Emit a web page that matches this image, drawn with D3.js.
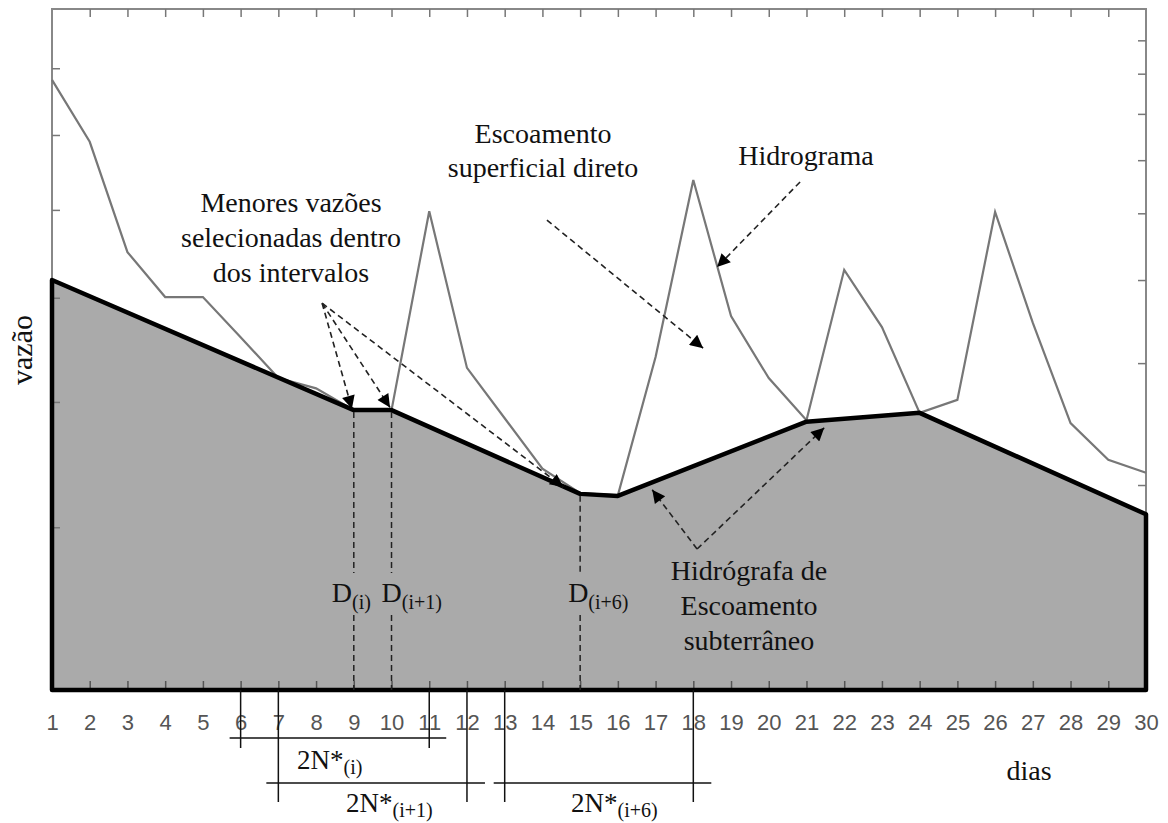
<!DOCTYPE html>
<html>
<head>
<meta charset="utf-8">
<script src="https://cdn.jsdelivr.net/npm/d3@7/dist/d3.min.js"></script>
<style>
  body { margin: 0; background: #fff; }
  svg { display: block; }
</style>
</head>
<body>
<svg id="chart" width="1168" height="823"></svg>
<script>

// daily flow (hydrograph), days 1..30, relative units
const days = d3.range(1, 31);
const hidrograma = [89.6, 80.5, 64.3, 57.7, 57.7, 51.8, 45.8, 44.3, 41.1, 41.1,
                    70.3, 47.3, 39.9, 32.5, 28.9, 28.6, 48.9, 74.9, 54.9, 45.8,
                    39.6, 61.7, 53.3, 40.7, 42.6, 70.2, 53.9, 39.2, 33.8, 31.9];

// base flow separation line (turning points)
const baseDays = [1, 9, 10, 15, 16, 21, 24, 30];
const baseFlow = [60.2, 41.1, 41.1, 28.8, 28.5, 39.4, 40.7, 25.8];

// frame ticks
const leftTicks = [91.3, 81.5, 70.5, 57.6, 42.3, 23.9];
const rightTicks = [95.4, 90.5, 84.6, 77.8, 70.0, 60.2, 48.0, 30.1];

// selected minimum days D and windows 2N*
const minDays = [9, 10, 15];
const minLabels = ["(i)", "(i+1)", "(i+6)"];
const windowStart = [6, 7, 13];
const windowEnd = [11, 12, 18];
const windowLabels = ["(i)", "(i+1)", "(i+6)"];

const serif = "'Liberation Serif', 'Times New Roman', serif";
const sans = "'Liberation Sans', Arial, sans-serif";

const svg = d3.select("#chart");

const x = d3.scaleLinear().domain([1, 30]).range([52, 1146]);
const y = d3.scaleLinear().domain([0, 100]).range([690, 9]);

const base = baseDays.map((d, i) => ({day: d, value: baseFlow[i]}));
const hydro = days.map((d, i) => ({day: d, value: hidrograma[i]}));


const drawFrame = () => {
  svg.append("rect")
      .attr("x", x(1)).attr("y", y(100))
      .attr("width", x(30) - x(1)).attr("height", y(0) - y(100))
      .attr("fill", "none")
      .attr("stroke", "#888")
      .attr("stroke-width", 2);

  const inner = days.filter((d) => d > 1 && d < 30);

  // top ticks
  svg.append("g")
      .attr("transform", `translate(0,${y(100)})`)
      .call(d3.axisBottom(x).tickValues(inner).tickSize(8).tickFormat(""))
      .call((g) => g.select(".domain").remove())
      .selectAll("line").attr("stroke", "#777").attr("stroke-width", 1.5);

  svg.append("g")
      .attr("transform", `translate(${x(1)},0)`)
      .call(d3.axisRight(y).tickValues(leftTicks).tickSize(8).tickFormat(""))
      .call((g) => g.select(".domain").remove())
      .selectAll("line").attr("stroke", "#777").attr("stroke-width", 1.5);

  svg.append("g")
      .attr("transform", `translate(${x(30)},0)`)
      .call(d3.axisLeft(y).tickValues(rightTicks).tickSize(8).tickFormat(""))
      .call((g) => g.select(".domain").remove())
      .selectAll("line").attr("stroke", "#777").attr("stroke-width", 1.5);
}


const drawBaseArea = () => {
  const area = d3.area()
      .x((d) => x(d.day))
      .y0(y(0))
      .y1((d) => y(d.value));

  svg.append("path")
      .datum(base)
      .attr("d", area)
      .attr("fill", "#aaaaaa");
}


const drawHydrograph = () => {
  svg.append("path")
      .datum(hydro)
      .attr("d", d3.line().x((d) => x(d.day)).y((d) => y(d.value)))
      .attr("fill", "none")
      .attr("stroke", "#777")
      .attr("stroke-width", 2.2);
}


const drawBaseLine = () => {
  // bottom ticks + day labels
  const bottom = svg.append("g")
      .attr("transform", `translate(0,${y(0)})`)
      .call(d3.axisBottom(x).tickValues(days).tickSize(-9).tickPadding(24))
      .call((g) => g.select(".domain").remove());

  bottom.selectAll("line")
      .attr("stroke", "#555")
      .attr("stroke-width", 1.5);
  bottom.selectAll("text")
      .style("font-family", sans)
      .style("font-size", "22px")
      .attr("fill", "#555");

  const outline = d3.area()
      .x((d) => x(d.day))
      .y0(y(0))
      .y1((d) => y(d.value));

  svg.append("path")
      .datum(base)
      .attr("d", outline)
      .attr("fill", "none")
      .attr("stroke", "#000")
      .attr("stroke-width", 4.5)
      .attr("stroke-linejoin", "round");
}


const drawMinima = () => {
  const g = svg.append("g");
  const labelShift = [-22, -10, -12];

  minDays.forEach((day, i) => {
    const v = baseFlow[baseDays.indexOf(day)];
    const cx = x(day);

    g.append("line")
        .attr("x1", cx).attr("x2", cx)
        .attr("y1", y(v) + 2).attr("y2", 573)
        .attr("stroke", "#222").attr("stroke-width", 1.5)
        .attr("stroke-dasharray", "6,4");
    g.append("line")
        .attr("x1", cx).attr("x2", cx)
        .attr("y1", 615).attr("y2", y(0))
        .attr("stroke", "#222").attr("stroke-width", 1.5)
        .attr("stroke-dasharray", "6,4");

    const t = g.append("text")
        .attr("x", cx + labelShift[i])
        .attr("y", 602)
        .style("font-family", serif)
        .style("font-size", "28px")
        .attr("fill", "#111");
    t.append("tspan").text("D");
    t.append("tspan")
        .attr("dy", 7)
        .style("font-size", "20px")
        .text(minLabels[i]);
  });
}


const drawWindows = () => {
  const rows = [738, 783, 783];
  const ends = [748, 802, 802];
  const overhangL = [11, 12, 11];
  const overhangR = [17, 18, 18];
  const labelX = [297, 346, 571];
  const labelY = [769, 812, 812];

  windowStart.forEach((start, i) => {
    const x0 = x(start), x1 = x(windowEnd[i]);
    const g = svg.append("g")
        .attr("stroke", "#111")
        .attr("stroke-width", 1.5);

    g.append("line")
        .attr("x1", x0 - overhangL[i]).attr("x2", x1 + overhangR[i])
        .attr("y1", rows[i]).attr("y2", rows[i]);
    g.append("line")
        .attr("x1", x0).attr("x2", x0)
        .attr("y1", y(0)).attr("y2", ends[i]);
    g.append("line")
        .attr("x1", x1).attr("x2", x1)
        .attr("y1", y(0)).attr("y2", ends[i]);

    const t = svg.append("text")
        .attr("x", labelX[i])
        .attr("y", labelY[i])
        .style("font-family", serif)
        .style("font-size", "27px")
        .attr("fill", "#111");
    t.append("tspan").text("2N*");
    t.append("tspan")
        .attr("dy", 5)
        .style("font-size", "20px")
        .text(windowLabels[i]);
  });
}


const appendLines = (cx, lines, firstBaseline, size, step) => {
  const t = svg.append("text")
      .attr("text-anchor", "middle")
      .style("font-family", serif)
      .style("font-size", size + "px")
      .attr("fill", "#111");

  lines.forEach((line, i) => {
    t.append("tspan")
        .attr("x", cx)
        .attr("y", firstBaseline + i * step)
        .text(line);
  });
}


const drawAnnotations = () => {
  svg.append("defs")
    .append("marker")
      .attr("id", "head")
      .attr("viewBox", "0 0 10 10")
      .attr("refX", 10)
      .attr("refY", 5)
      .attr("markerWidth", 18)
      .attr("markerHeight", 13)
      .attr("markerUnits", "userSpaceOnUse")
      .attr("orient", "auto")
    .append("path")
      .attr("d", "M0,0L10,5L0,10Z")
      .attr("fill", "#000");

  // [from day, from value, to day, to value]
  const arrows = [
    [8.16, 56.8, 8.95, 41.3],
    [8.16, 56.8, 9.96, 41.5],
    [8.16, 56.8, 14.55, 29.8],
    [14.12, 69.0, 18.26, 50.2],
    [20.83, 74.6, 18.63, 62.1],
    [18.10, 20.7, 16.91, 29.4],
    [18.10, 20.7, 21.47, 38.5]
  ];

  svg.append("g")
      .selectAll("line")
      .data(arrows)
      .enter()
      .append("line")
        .attr("x1", (d) => x(d[0]))
        .attr("y1", (d) => y(d[1]))
        .attr("x2", (d) => x(d[2]))
        .attr("y2", (d) => y(d[3]))
        .attr("stroke", "#222")
        .attr("stroke-width", 1.6)
        .attr("stroke-dasharray", "6,4")
        .attr("marker-end", "url(#head)");

  appendLines(291, ["Menores vazões", "selecionadas dentro", "dos intervalos"], 212, 28, 35);
  appendLines(543, ["Escoamento", "superficial direto"], 143, 28, 34);
  appendLines(806, ["Hidrograma"], 165, 28, 34);
  appendLines(749, ["Hidrógrafa de", "Escoamento", "subterrâneo"], 580, 28, 35);

  svg.append("text")
      .attr("transform", "translate(32,350) rotate(-90)")
      .attr("text-anchor", "middle")
      .style("font-family", serif)
      .style("font-size", "30px")
      .attr("fill", "#111")
      .text("vazão");

  svg.append("text")
      .attr("x", 1029)
      .attr("y", 780)
      .attr("text-anchor", "middle")
      .style("font-family", serif)
      .style("font-size", "28px")
      .attr("fill", "#111")
      .text("dias");
}


drawBaseArea();
drawFrame();
drawHydrograph();
drawBaseLine();
drawMinima();
drawWindows();
drawAnnotations();

</script>
</body>
</html>
